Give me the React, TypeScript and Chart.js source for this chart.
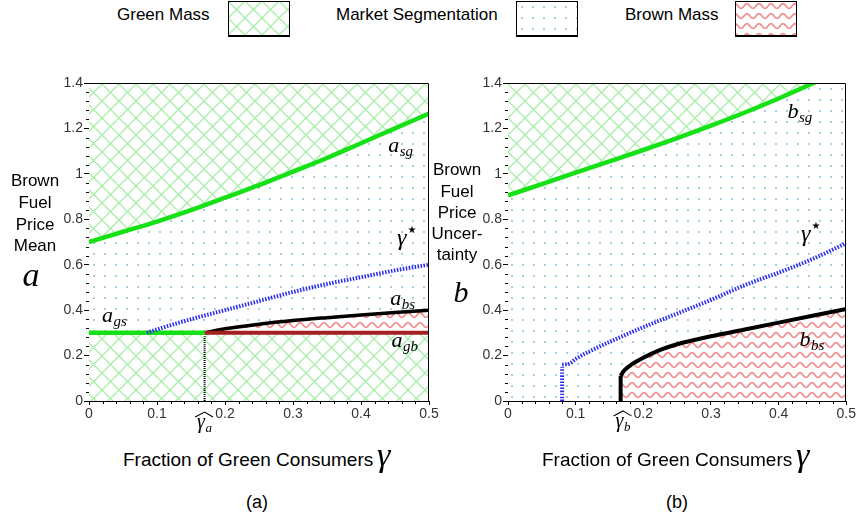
import React, { useEffect, useRef } from "react";
import { Chart, registerables } from "chart.js";

Chart.register(...registerables);

// ---------- Panel (a): brown fuel price mean a ----------
const asgGamma = [0, 0.05, 0.1, 0.15, 0.2, 0.25, 0.3, 0.35, 0.4, 0.45, 0.5];
const asgValues = [0.7, 0.745, 0.79, 0.84, 0.895, 0.95, 1.01, 1.07, 1.135, 1.2, 1.265];
const gammaHatA = 0.17;
const switchLevelA = 0.3; // a_gs (left of gamma-hat) and a_gb (right of it)
const absGamma = [0.17, 0.2, 0.25, 0.3, 0.35, 0.4, 0.45, 0.5];
const absValues = [0.3, 0.318, 0.338, 0.354, 0.367, 0.379, 0.39, 0.4];
const starAGamma = [0.085, 0.1, 0.15, 0.2, 0.25, 0.3, 0.35, 0.4, 0.45, 0.5];
const starAValues = [0.3, 0.315, 0.36, 0.4, 0.44, 0.48, 0.515, 0.545, 0.575, 0.6];

// ---------- Panel (b): brown fuel price uncertainty b ----------
const bsgGamma = [0, 0.05, 0.1, 0.15, 0.2, 0.25, 0.3, 0.35, 0.4, 0.45, 0.5];
const bsgValues = [0.905, 0.955, 1.005, 1.055, 1.105, 1.157, 1.212, 1.27, 1.332, 1.398, 1.468];
const starBStemGamma = 0.08;
const starBStemTop = 0.15;
const starBGamma = [0.08, 0.092, 0.1, 0.125, 0.15, 0.2, 0.25, 0.3, 0.35, 0.4, 0.45, 0.5];
const starBValues = [0.16, 0.166, 0.185, 0.225, 0.26, 0.325, 0.385, 0.445, 0.51, 0.565, 0.625, 0.695];
const gammaHatB = 0.1665;
const bbsGamma = [0.1665, 0.17, 0.18, 0.2, 0.225, 0.25, 0.3, 0.35, 0.4, 0.45, 0.5];
const bbsValues = [0.11, 0.128, 0.155, 0.19, 0.225, 0.25, 0.285, 0.315, 0.345, 0.375, 0.405];

// ---------- Axes ----------
const xMax = 0.5;
const yMax = 1.4;
const xTickStep = 0.1;
const yTickStep = 0.2;
const xMinorStep = 0.02;
const yMinorStep = 0.04;

// ---------- Curve labels (anchored in data coordinates) ----------
type MathLabel = { text: string; sub?: string; sup?: string; hat?: boolean; g: number; v: number; size?: number };
const labelsA: MathLabel[] = [
  { text: "a", sub: "sg", g: 0.44, v: 1.096 },
  { text: "γ", sup: "★", g: 0.453, v: 0.687, size: 24 },
  { text: "a", sub: "bs", g: 0.443, v: 0.423 },
  { text: "a", sub: "gs", g: 0.019, v: 0.349 },
  { text: "a", sub: "gb", g: 0.445, v: 0.238 },
  { text: "γ", sub: "a", hat: true, g: 0.159, v: -0.119, size: 20 },
];
const labelsB: MathLabel[] = [
  { text: "b", sub: "sg", g: 0.413, v: 1.246 },
  { text: "γ", sup: "★", g: 0.433, v: 0.705, size: 24 },
  { text: "b", sub: "bs", g: 0.431, v: 0.242 },
  { text: "γ", sub: "b", hat: true, g: 0.159, v: -0.114, size: 20 },
];

const SANS = '"Liberation Sans", Arial, sans-serif';
const SERIF = '"Liberation Serif", "Times New Roman", serif';

const GREEN_LINE = "#16e016";
const BLUE_LINE = "#2b2bf2";
const BROWN_LINE = "#a32020";

type PatternKind = "green" | "dots" | "brown";

function makePattern(kind: PatternKind): CanvasPattern {
  const tile = document.createElement("canvas");
  const g = tile.getContext("2d")!;
  if (kind === "green") {
    tile.width = 17;
    tile.height = 17;
    g.fillStyle = "#fff";
    g.fillRect(0, 0, 17, 17);
    g.strokeStyle = "#a8eea8";
    g.lineWidth = 1.3;
    g.beginPath();
    g.moveTo(-2, -2);
    g.lineTo(19, 19);
    g.moveTo(19, -2);
    g.lineTo(-2, 19);
    g.stroke();
  } else if (kind === "dots") {
    tile.width = 11;
    tile.height = 11;
    g.fillStyle = "#fff";
    g.fillRect(0, 0, 11, 11);
    g.fillStyle = "#a3d2df";
    g.fillRect(5, 5, 2, 2);
  } else {
    tile.width = 12;
    tile.height = 10;
    g.fillStyle = "#fff";
    g.fillRect(0, 0, 12, 10);
    g.strokeStyle = "#f28e8e";
    g.lineWidth = 1.7;
    g.beginPath();
    for (let x = -1; x <= 13; x += 0.5) {
      const y = 5 - 2.3 * Math.cos((2 * Math.PI * x) / 12);
      if (x === -1) g.moveTo(x, y);
      else g.lineTo(x, y);
    }
    g.stroke();
  }
  return g.createPattern(tile, "repeat")!;
}

const pts = (xs: number[], ys: number[]) => xs.map((x, i) => ({ x, y: ys[i] }));
const fmt = (v: number) => String(Math.round(v * 100) / 100);

function drawMath(ctx: CanvasRenderingContext2D, x: number, y: number, lab: MathLabel) {
  const size = lab.size ?? 22;
  ctx.fillStyle = "#000";
  ctx.strokeStyle = "#000";
  ctx.textAlign = "left";
  ctx.textBaseline = "alphabetic";
  ctx.font = `italic ${size}px ${SERIF}`;
  ctx.fillText(lab.text, x, y);
  const w = ctx.measureText(lab.text).width;
  let total = w;
  if (lab.sub) {
    ctx.font = `italic ${Math.round(size * 0.66)}px ${SERIF}`;
    ctx.fillText(lab.sub, x + w + 0.5, y + size * 0.2);
    total = w + 0.5 + ctx.measureText(lab.sub).width;
  }
  if (lab.sup) {
    ctx.font = `${Math.round(size * 0.42)}px "DejaVu Sans"`;
    ctx.fillText(lab.sup, x + w + 1, y - size * 0.5);
  }
  if (lab.hat) {
    ctx.lineWidth = 1.1;
    ctx.beginPath();
    ctx.moveTo(x - 2, y - size * 0.55);
    ctx.lineTo(x + total / 2, y - size * 0.8);
    ctx.lineTo(x + total + 1, y - size * 0.55);
    ctx.stroke();
  }
}

function panelPlugins(dots: CanvasPattern, labels: MathLabel[]) {
  return [
    {
      id: "segmentationBackdrop",
      beforeDatasetsDraw(chart: any) {
        const { ctx, chartArea: a } = chart;
        ctx.save();
        ctx.fillStyle = dots;
        ctx.fillRect(a.left, a.top, a.right - a.left, a.bottom - a.top);
        ctx.restore();
      },
    },
    {
      id: "frameMinorTicksLabels",
      afterDraw(chart: any) {
        const { ctx, chartArea: a, scales } = chart;
        ctx.save();
        ctx.strokeStyle = "#000";
        ctx.lineWidth = 1;
        ctx.beginPath();
        const top = Math.round(a.top) + 0.5;
        const right = Math.round(a.right) - 0.5;
        ctx.moveTo(Math.round(a.left), top);
        ctx.lineTo(right, top);
        ctx.lineTo(right, Math.round(a.bottom));
        // minor ticks
        const bottom = Math.round(a.bottom);
        for (let k = 1; k * xMinorStep < xMax - 1e-9; k++) {
          const v = k * xMinorStep;
          if (Math.abs(v / xTickStep - Math.round(v / xTickStep)) < 1e-6) continue;
          const px = Math.round(scales.x.getPixelForValue(v)) + 0.5;
          ctx.moveTo(px, bottom);
          ctx.lineTo(px, bottom + 3);
        }
        const left = Math.round(a.left);
        for (let k = 1; k * yMinorStep < yMax - 1e-9; k++) {
          const v = k * yMinorStep;
          if (Math.abs(v / yTickStep - Math.round(v / yTickStep)) < 1e-6) continue;
          const py = Math.round(scales.y.getPixelForValue(v)) + 0.5;
          ctx.moveTo(left, py);
          ctx.lineTo(left - 3, py);
        }
        ctx.stroke();
        for (const lab of labels) {
          drawMath(ctx, scales.x.getPixelForValue(lab.g), scales.y.getPixelForValue(lab.v), lab);
        }
        ctx.restore();
      },
    },
  ];
}

function panelOptions(padLeft: number, padRight: number) {
  const tickFont = { family: SANS, size: 14 };
  return {
    animation: false as const,
    responsive: false,
    devicePixelRatio: 1,
    events: [],
    layout: { padding: { left: padLeft, right: padRight, top: 33, bottom: 9 } },
    plugins: { legend: { display: false }, tooltip: { enabled: false }, filler: { propagate: false } },
    elements: { point: { radius: 0 }, line: { cubicInterpolationMode: "monotone" as const } },
    scales: {
      x: {
        type: "linear" as const,
        min: 0,
        max: xMax,
        afterFit: (s: any) => {
          s.height = 30;
        },
        ticks: { stepSize: xTickStep, padding: 1, color: "#333", font: tickFont, maxRotation: 0, autoSkip: false, callback: (v: any) => fmt(Number(v)) },
        grid: { display: true, drawOnChartArea: false, drawTicks: true, tickLength: 4, color: "#000" },
        border: { display: true, color: "#000" },
      },
      y: {
        type: "linear" as const,
        min: 0,
        max: yMax,
        afterFit: (s: any) => {
          s.width = 40;
        },
        ticks: { stepSize: yTickStep, padding: 1, color: "#333", font: tickFont, autoSkip: false, callback: (v: any) => fmt(Number(v)) },
        grid: { display: true, drawOnChartArea: false, drawTicks: true, tickLength: 5, color: "#000" },
        border: { display: true, color: "#000" },
      },
    },
  };
}

function Swatch({ kind, left }: { kind: PatternKind; left: number }) {
  const ref = useRef<HTMLCanvasElement>(null);
  useEffect(() => {
    const c = ref.current!;
    const g = c.getContext("2d")!;
    g.fillStyle = makePattern(kind);
    g.fillRect(0, 0, c.width, c.height);
    g.strokeStyle = "#000";
    g.lineWidth = 1;
    g.strokeRect(0.5, 0.5, c.width - 1, c.height - 1);
    g.fillStyle = "#000";
    g.fillRect(0, c.height - 2, c.width, 2);
  }, [kind]);
  return <canvas ref={ref} width={62} height={36} style={{ position: "absolute", left, top: 1 }} />;
}

function Txt({
  x,
  y,
  size,
  children,
  family = SANS,
  italic = false,
  center = false,
}: {
  x: number;
  y: number;
  size: number;
  children: React.ReactNode;
  family?: string;
  italic?: boolean;
  center?: boolean;
}) {
  const asc = family === SERIF ? 0.8375 : 0.8465;
  return (
    <div
      style={{
        position: "absolute",
        left: center ? x - 150 : x,
        width: center ? 300 : undefined,
        textAlign: center ? "center" : "left",
        top: y - asc * size,
        fontSize: size,
        lineHeight: `${size}px`,
        fontFamily: family,
        fontStyle: italic ? "italic" : "normal",
        whiteSpace: "nowrap",
        color: "#000",
      }}
    >
      {children}
    </div>
  );
}

export default function App() {
  const refA = useRef<HTMLCanvasElement>(null);
  const refB = useRef<HTMLCanvasElement>(null);

  useEffect(() => {
    const green = makePattern("green");
    const dots = makePattern("dots");
    const brown = makePattern("brown");

    const chartA = new Chart(refA.current!, {
      type: "line",
      data: {
        datasets: [
          { data: pts(starAGamma, starAValues), borderColor: BLUE_LINE, borderWidth: 4, borderDash: [1.5, 1.5], fill: false, order: 1 },
          { data: pts([0, gammaHatA], [switchLevelA, switchLevelA]), borderColor: GREEN_LINE, borderWidth: 4.5, fill: false, order: 2 },
          { data: pts([gammaHatA, xMax], [switchLevelA, switchLevelA]), borderColor: BROWN_LINE, borderWidth: 4, fill: false, order: 2 },
          { data: pts([gammaHatA, gammaHatA], [0, switchLevelA]), borderColor: "#000", borderWidth: 2, borderDash: [1, 1], fill: false, order: 2 },
          { data: pts(absGamma, absValues), borderColor: "#000", borderWidth: 3.5, fill: { value: switchLevelA }, backgroundColor: brown, order: 3 },
          { data: pts(asgGamma, asgValues), borderColor: GREEN_LINE, borderWidth: 4.5, fill: "end", backgroundColor: green, order: 4 },
          { data: pts([0, xMax], [switchLevelA, switchLevelA]), borderWidth: 0, borderColor: "rgba(0,0,0,0)", fill: "origin", backgroundColor: green, order: 9 },
        ] as any,
      },
      options: panelOptions(49, 11) as any,
      plugins: panelPlugins(dots, labelsA) as any,
    });

    const chartB = new Chart(refB.current!, {
      type: "line",
      data: {
        datasets: [
          { data: pts([starBStemGamma, starBStemGamma], [0, starBStemTop]), borderColor: BLUE_LINE, borderWidth: 4, borderDash: [1.5, 1.5], fill: false, order: 1 },
          { data: pts(starBGamma, starBValues), borderColor: BLUE_LINE, borderWidth: 4, borderDash: [1.5, 1.5], fill: false, order: 1 },
          { data: pts([gammaHatB, gammaHatB], [0, bbsValues[0]]), borderColor: "#000", borderWidth: 4, fill: false, order: 2 },
          { data: pts(bbsGamma, bbsValues), borderColor: "#000", borderWidth: 4, fill: "origin", backgroundColor: brown, order: 3 },
          { data: pts(bsgGamma, bsgValues), borderColor: GREEN_LINE, borderWidth: 4.5, fill: "end", backgroundColor: green, order: 4 },
        ] as any,
      },
      options: panelOptions(28, 9) as any,
      plugins: panelPlugins(dots, labelsB) as any,
    });

    return () => {
      chartA.destroy();
      chartB.destroy();
    };
  }, []);

  return (
    <div style={{ position: "absolute", left: 0, top: 0, width: 857, height: 517, background: "#fff", overflow: "hidden" }}>
      <canvas ref={refA} width={440} height={390} style={{ position: "absolute", left: 0, top: 50 }} />
      <canvas ref={refB} width={417} height={390} style={{ position: "absolute", left: 440, top: 50 }} />

      {/* legend */}
      <Txt x={117} y={20} size={17}>Green Mass</Txt>
      <Swatch kind="green" left={228} />
      <Txt x={336} y={20} size={17}>Market Segmentation</Txt>
      <Swatch kind="dots" left={516} />
      <Txt x={625} y={20} size={17}>Brown Mass</Txt>
      <Swatch kind="brown" left={735} />

      {/* panel (a) axis titles */}
      <Txt x={35} y={186} size={17} center>Brown</Txt>
      <Txt x={35} y={208} size={17} center>Fuel</Txt>
      <Txt x={35} y={230} size={17} center>Price</Txt>
      <Txt x={35} y={251} size={17} center>Mean</Txt>
      <Txt x={31} y={286} size={34} family={SERIF} italic center>a</Txt>
      <Txt x={123} y={466} size={19}>Fraction of Green Consumers</Txt>
      <Txt x={377} y={466} size={34} family={SERIF} italic>γ</Txt>
      <Txt x={257} y={508} size={18} center>(a)</Txt>

      {/* panel (b) axis titles */}
      <Txt x={457} y={175} size={17} center>Brown</Txt>
      <Txt x={457} y={197} size={17} center>Fuel</Txt>
      <Txt x={457} y={218} size={17} center>Price</Txt>
      <Txt x={457} y={239} size={17} center>Uncer-</Txt>
      <Txt x={457} y={260} size={17} center>tainty</Txt>
      <Txt x={461} y={302} size={30} family={SERIF} italic center>b</Txt>
      <Txt x={542} y={466} size={19}>Fraction of Green Consumers</Txt>
      <Txt x={796} y={466} size={34} family={SERIF} italic>γ</Txt>
      <Txt x={677} y={508} size={18} center>(b)</Txt>
    </div>
  );
}
